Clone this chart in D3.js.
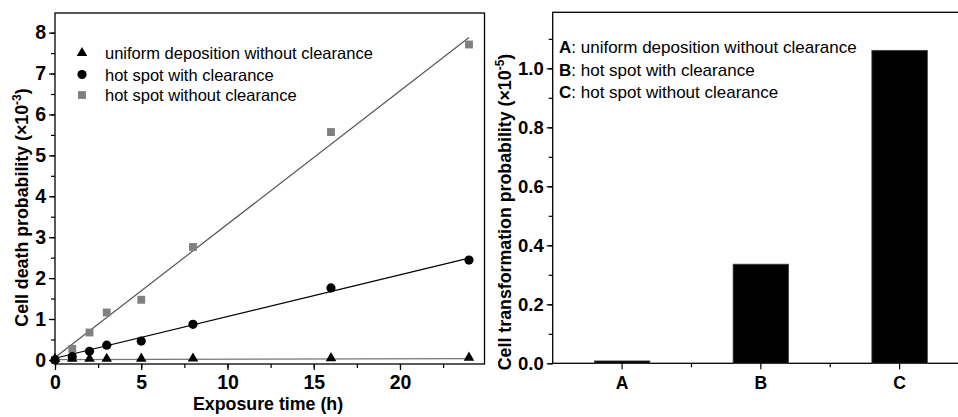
<!DOCTYPE html>
<html><head><meta charset="utf-8">
<script src="https://cdn.jsdelivr.net/npm/d3@7"></script>
<style>
body{margin:0;background:#fff;}
text{font-family:"Liberation Sans",Arial,sans-serif;}
</style></head>
<body><svg id="c" width="958" height="417"></svg>
<script>
// ---- data (left panel) ----
const times = [0, 1, 2, 3, 5, 8, 16, 24];
const uniformNoClear = [0, 0.002, 0.003, 0.004, 0.006, 0.01, 0.02, 0.03];
const hotWithClear = [0, 0.08, 0.21, 0.36, 0.46, 0.87, 1.76, 2.44];
const hotNoClear = [0, 0.27, 0.67, 1.16, 1.47, 2.76, 5.57, 7.71];
// fitted lines: [value at t=0, value at t=24]
const fitUniform = [0.005, 0.03];
const fitWithClear = [0.04, 2.49];
const fitNoClear = [0.06, 7.88];
const xTicks = [0, 5, 10, 15, 20];
const yTicks = [0, 1, 2, 3, 4, 5, 6, 7, 8];
const seriesNames = ["uniform deposition without clearance", "hot spot with clearance", "hot spot without clearance"];
// ---- data (right panel) ----
const barCats = ["A", "B", "C"];
const barValues = [0.008, 0.336, 1.061];
const barLegend = [": uniform deposition without clearance", ": hot spot with clearance", ": hot spot without clearance"];
const yTicksR = [0, 0.2, 0.4, 0.6, 0.8, 1.0];

const svg = d3.select("#c");
const FONT = '"Liberation Sans",Arial,sans-serif';

// ===== LEFT PANEL =====
const L = {x0: 55, x1: 484.5, y0: 13, y1: 364};
const x = d3.scaleLinear().domain([0, 24.9]).range([L.x0, L.x1]);
const y = d3.scaleLinear().domain([-0.1, 8.48]).range([L.y1, L.y0]);

const gL = svg.append("g");
gL.append("rect").attr("x", L.x0).attr("y", L.y0).attr("width", L.x1 - L.x0).attr("height", L.y1 - L.y0)
  .attr("fill", "none").attr("stroke", "#000").attr("stroke-width", 1.3);

// minor ticks
gL.append("g").attr("transform", `translate(0,${L.y1})`)
  .call(d3.axisBottom(x).tickValues(d3.range(0, 25, 2.5)).tickSize(4).tickFormat(""))
  .call(g => g.select(".domain").remove());
gL.append("g").attr("transform", `translate(${L.x0},0)`)
  .call(d3.axisLeft(y).tickValues(d3.range(0, 8.5, 0.5)).tickSize(4).tickFormat(""))
  .call(g => g.select(".domain").remove());
// major
const axB = gL.append("g").attr("transform", `translate(0,${L.y1})`)
  .call(d3.axisBottom(x).tickValues(xTicks).tickSize(6).tickPadding(5).tickFormat(d3.format("d")));
axB.select(".domain").remove();
const axL = gL.append("g").attr("transform", `translate(${L.x0},0)`)
  .call(d3.axisLeft(y).tickValues(yTicks).tickSize(6).tickPadding(3).tickFormat(d3.format("d")));
axL.select(".domain").remove();
gL.selectAll(".tick text").attr("font-family", FONT).attr("font-size", 19.5).attr("font-weight", "bold").attr("fill", "#000");
gL.selectAll(".tick line").attr("stroke", "#000").attr("stroke-width", 1.2);

// fit lines
const fits = [[fitNoClear, "#555"], [fitWithClear, "#000"], [fitUniform, "#777"]];
fits.forEach(([f, col]) => {
  gL.append("line").attr("x1", x(0)).attr("y1", y(f[0])).attr("x2", x(24)).attr("y2", y(f[1]))
    .attr("stroke", col).attr("stroke-width", 1.2);
});

// markers
const tri = d3.symbol().type(d3.symbolTriangle).size(48);
const sq = d3.symbol().type(d3.symbolSquare).size(62);
gL.selectAll(".sq").data(times.map((t, i) => [t, hotNoClear[i]])).join("path")
  .attr("d", sq).attr("fill", "#808080").attr("transform", d => `translate(${x(d[0])},${y(d[1])})`);
gL.selectAll(".ci").data(times.map((t, i) => [t, hotWithClear[i]])).join("circle")
  .attr("cx", d => x(d[0])).attr("cy", d => y(d[1])).attr("r", 4.6).attr("fill", "#000");
gL.selectAll(".tr").data(times.map((t, i) => [t, uniformNoClear[i]])).join("path")
  .attr("d", tri).attr("fill", "#000").attr("transform", d => `translate(${x(d[0])},${y(d[1]) - 1})`);

// legend
const legY = [53, 74.5, 95];
const legSyms = [
  g => g.append("path").attr("d", tri).attr("fill", "#000"),
  g => g.append("circle").attr("r", 4.6).attr("fill", "#000"),
  g => g.append("path").attr("d", sq).attr("fill", "#808080")
];
seriesNames.forEach((n, i) => {
  const g = gL.append("g").attr("transform", `translate(82,${legY[i]})`);
  legSyms[i](g);
  gL.append("text").attr("x", 105).attr("y", legY[i] + 6).attr("font-size", 16.5).attr("fill", "#000").text(n);
});

// axis titles
gL.append("text").attr("x", 268).attr("y", 410).attr("text-anchor", "middle")
  .attr("font-size", 17.8).attr("font-weight", "bold").text("Exposure time (h)");
const tl = gL.append("text").attr("transform", "translate(28,207.5) rotate(-90)").attr("text-anchor", "middle")
  .attr("font-size", 17.8).attr("font-weight", "bold");
tl.append("tspan").text("Cell death probability (×10");
tl.append("tspan").attr("dy", -7).attr("font-size", 12).text("-3");
tl.append("tspan").attr("dy", 7).text(")");

// ===== RIGHT PANEL =====
const R = {x0: 552.7, x1: 969, y0: 12.3, y1: 363.3};
const xb = d3.scaleBand().domain(barCats).range([R.x0, R.x1]).paddingInner(0.6).paddingOuter(0.3);
const yr = d3.scaleLinear().domain([0, 1.19]).range([R.y1, R.y0]);
const gR = svg.append("g");
gR.append("rect").attr("x", R.x0).attr("y", R.y0).attr("width", R.x1 - R.x0).attr("height", R.y1 - R.y0)
  .attr("fill", "none").attr("stroke", "#000").attr("stroke-width", 1.3);

gR.selectAll(".bar").data(barCats.map((c, i) => [c, barValues[i]])).join("rect")
  .attr("x", d => xb(d[0])).attr("width", xb.bandwidth())
  .attr("y", d => yr(d[1])).attr("height", d => yr(0) - yr(d[1]))
  .attr("fill", "#000").attr("stroke", "#444").attr("stroke-width", 0.8);

// minor ticks
gR.append("g").attr("transform", `translate(${R.x0},0)`)
  .call(d3.axisLeft(yr).tickValues(d3.range(0, 1.15, 0.1)).tickSize(4).tickFormat(""))
  .call(g => g.select(".domain").remove());
const midTicks = [xb("A") + xb.bandwidth() / 2 + xb.step() / 2, xb("B") + xb.bandwidth() / 2 + xb.step() / 2];
gR.selectAll(".mt").data(midTicks).join("line").attr("x1", d => d).attr("x2", d => d)
  .attr("y1", R.y1).attr("y2", R.y1 + 4).attr("stroke", "#000").attr("stroke-width", 1.2);
const axRB = gR.append("g").attr("transform", `translate(0,${R.y1})`)
  .call(d3.axisBottom(xb).tickSize(6).tickPadding(7));
axRB.select(".domain").remove();
axRB.selectAll(".tick text").attr("font-size", 17.5);
const axRL = gR.append("g").attr("transform", `translate(${R.x0},0)`)
  .call(d3.axisLeft(yr).tickValues(yTicksR).tickSize(6).tickPadding(3).tickFormat(d3.format(".1f")));
axRL.select(".domain").remove();
axRL.selectAll(".tick text").attr("font-size", 18.5);
gR.selectAll(".tick text").attr("font-family", FONT).attr("font-weight", "bold").attr("fill", "#000");
gR.selectAll(".tick line").attr("stroke", "#000").attr("stroke-width", 1.2);

// legend
const legYR = [53, 75.5, 98];
barCats.forEach((c, i) => {
  const t = gR.append("text").attr("x", 559).attr("y", legYR[i]).attr("font-size", 17).attr("fill", "#000");
  t.append("tspan").attr("font-weight", "bold").text(c);
  t.append("tspan").text(barLegend[i]);
});

const tr = gR.append("text").attr("transform", "translate(511,212) rotate(-90)").attr("text-anchor", "middle")
  .attr("font-size", 17.8).attr("font-weight", "bold");
tr.append("tspan").text("Cell transformation probability (×10");
tr.append("tspan").attr("dy", -7).attr("font-size", 12).text("-5");
tr.append("tspan").attr("dy", 7).text(")");
</script></body></html>
